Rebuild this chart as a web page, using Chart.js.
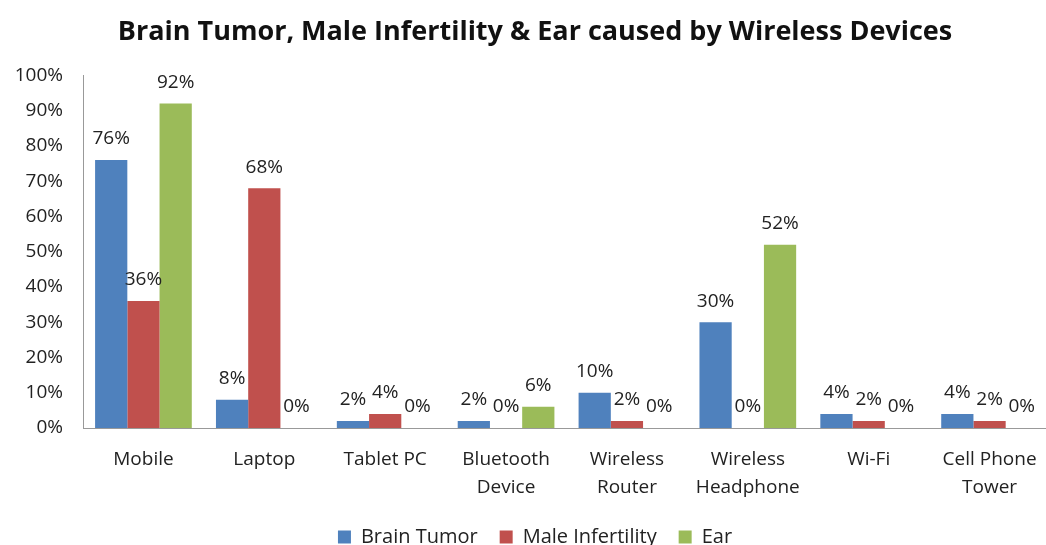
<!doctype html>
<html>
<head>
  <meta charset="utf-8">
  <script src="https://cdn.jsdelivr.net/npm/chart.js@4.4.1/dist/chart.umd.min.js"></script>
  <style>
    html, body { margin: 0; padding: 0; background: #fff; overflow: hidden; }
    #wrap { width: 1046px; height: 545px; overflow: hidden; }
  </style>
</head>
<body>
  <div id="wrap"><canvas id="chart" width="1066" height="545"></canvas></div>
  <script>
    const categories = [
      'Mobile', 'Laptop', 'Tablet PC', ['Bluetooth', 'Device'], ['Wireless', 'Router'],
      ['Wireless', 'Headphone'], 'Wi-Fi', ['Cell Phone', 'Tower']
    ];
    const brainTumor = [76, 8, 2, 2, 10, 30, 4, 4];
    const maleInfertility = [36, 68, 4, 0, 2, 0, 2, 2];
    const ear = [92, 0, 0, 6, 0, 52, 0, 0];
    const yTicks = [0, 10, 20, 30, 40, 50, 60, 70, 80, 90, 100];

    const FONT = "'Open Sans', sans-serif";
    const TEXT = '#222';

    // draws the value above each bar, like the Excel data labels
    const valueLabels = {
      id: 'valueLabels',
      afterDatasetsDraw(chart) {
        const ctx = chart.ctx;
        ctx.save();
        ctx.font = '19px ' + FONT;
        ctx.fillStyle = TEXT;
        ctx.textAlign = 'center';
        ctx.textBaseline = 'middle';
        chart.data.datasets.forEach((ds, i) => {
          chart.getDatasetMeta(i).data.forEach((bar, j) => {
            ctx.fillText(ds.data[j] + '%', bar.x, bar.y - 21);
          });
        });
        ctx.restore();
      }
    };

    // title and legend sit a bit right of the canvas centre in the original
    const nudge = {
      id: 'nudge',
      afterLayout(chart) {
        [chart.titleBlock, chart.legend].forEach(b => {
          b.left += 10;
          b.right += 10;
        });
      }
    };

    new Chart(document.getElementById('chart'), {
      type: 'bar',
      data: {
        labels: categories,
        datasets: [
          { label: 'Brain Tumor', data: brainTumor, backgroundColor: '#4F81BD' },
          { label: 'Male Infertility', data: maleInfertility, backgroundColor: '#C0504D' },
          { label: 'Ear', data: ear, backgroundColor: '#9BBB59' }
        ]
      },
      options: {
        responsive: false,
        animation: false,
        layout: { padding: { left: 0, right: 16, top: 0, bottom: -12 } },
        datasets: { bar: { categoryPercentage: 0.8, barPercentage: 1.0 } },
        plugins: {
          title: {
            display: true,
            text: 'Brain Tumor, Male Infertility & Ear caused by Wireless Devices',
            color: '#111',
            font: { family: FONT, size: 27, weight: 'bold' },
            padding: { top: 16, bottom: 27 }
          },
          legend: {
            position: 'bottom',
            labels: {
              color: TEXT,
              font: { family: FONT, size: 20 },
              boxWidth: 13,
              boxHeight: 13,
              padding: 22
            }
          },
          tooltip: { enabled: false }
        },
        scales: {
          x: {
            grid: { display: false, drawTicks: false },
            border: { color: '#999', width: 1 },
            ticks: {
              color: TEXT,
              font: { family: FONT, size: 19, lineHeight: 1.45 },
              padding: 18,
              maxRotation: 0,
              autoSkip: false
            },
            afterFit: s => { s.height = 77; }
          },
          y: {
            min: 0,
            max: 100,
            grid: { display: false, drawTicks: false },
            border: { color: '#999', width: 1 },
            afterBuildTicks: s => { s.ticks = yTicks.map(v => ({ value: v })); },
            ticks: {
              color: TEXT,
              font: { family: FONT, size: 19 },
              padding: 20,
              callback: v => v + '%'
            },
            afterFit: s => { s.width = 83; }
          }
        }
      },
      plugins: [valueLabels, nudge]
    });
  </script>
</body>
</html>
